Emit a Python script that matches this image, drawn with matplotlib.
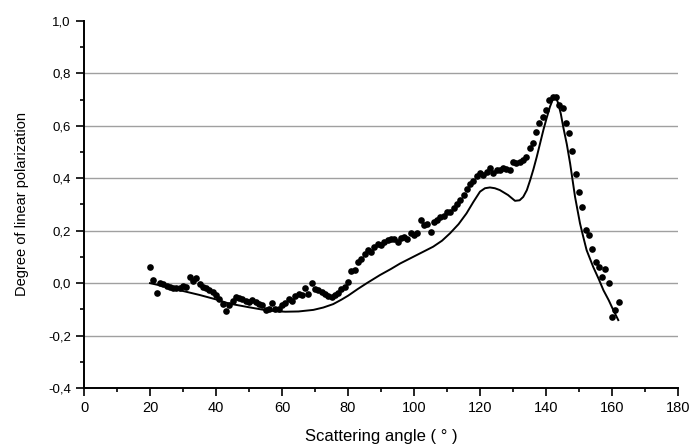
from matplotlib import pyplot as plt
import numpy as np

plt.rcParams['font.family'] = ['Liberation Sans', 'DejaVu Sans']

# measured degree of linear polarization (dots)
ang_obs = list(range(20, 163))
pol_obs = [0.062, 0.011, -0.037, 0.002, -0.005, -0.010, -0.015, -0.020, -0.020, -0.018,
           -0.012, -0.015, 0.024, 0.008, 0.020, -0.005, -0.014, -0.018, -0.027, -0.035,
           -0.046, -0.060, -0.080, -0.105, -0.084, -0.070, -0.052, -0.056, -0.062, -0.068,
           -0.072, -0.065, -0.072, -0.078, -0.085, -0.103, -0.098, -0.075, -0.100, -0.098,
           -0.085, -0.075, -0.062, -0.068, -0.050, -0.040, -0.045, -0.020, -0.040, 0.001,
           -0.024, -0.028, -0.032, -0.040, -0.048, -0.052, -0.045, -0.038, -0.024, -0.014,
           0.003, 0.048, 0.052, 0.081, 0.094, 0.110, 0.126, 0.120, 0.139, 0.148,
           0.145, 0.158, 0.164, 0.168, 0.170, 0.158, 0.172, 0.177, 0.170, 0.192,
           0.185, 0.190, 0.240, 0.221, 0.225, 0.196, 0.234, 0.240, 0.253, 0.256,
           0.272, 0.270, 0.285, 0.300, 0.317, 0.335, 0.358, 0.377, 0.390, 0.410,
           0.419, 0.412, 0.425, 0.438, 0.419, 0.432, 0.431, 0.438, 0.435, 0.431,
           0.463, 0.460, 0.463, 0.470, 0.482, 0.514, 0.536, 0.578, 0.610, 0.635,
           0.660, 0.698, 0.711, 0.709, 0.679, 0.667, 0.610, 0.571, 0.505, 0.416,
           0.348, 0.291, 0.202, 0.183, 0.129, 0.079, 0.062, 0.024, 0.053, -0.001,
           -0.129, -0.103, -0.071]

# model curve (solid line)
ang_fit = [20, 25, 29, 35, 40, 44, 50, 55, 58, 61, 65, 69.5, 72.5, 75.5, 78, 80, 83, 85.7,
           89.7, 93, 95.8, 100.8, 105.8, 108.5, 110.9, 113.5, 115.9, 118, 120, 121.5, 123,
           124.5, 126, 128.5, 130.6, 132, 133.1, 134.2, 135.2, 136.2, 137.2, 138.2, 139.2,
           140.2, 141.2, 142.2, 143, 143.7, 144.5, 145.2, 146.3, 147.3, 148.8, 150.3, 151.3,
           152.3, 154.3, 156, 157.4, 159, 160.4, 161.9]
pol_fit = [0.000, -0.014, -0.027, -0.045, -0.062, -0.078, -0.092, -0.103, -0.107, -0.109,
           -0.108, -0.102, -0.093, -0.080, -0.063, -0.048, -0.022, 0.000, 0.031, 0.054, 0.075,
           0.107, 0.139, 0.162, 0.190, 0.225, 0.266, 0.310, 0.349, 0.362, 0.365,
           0.362, 0.355, 0.336, 0.314, 0.316, 0.329, 0.355, 0.393, 0.435, 0.482, 0.533,
           0.584, 0.630, 0.673, 0.705, 0.708, 0.686, 0.645, 0.597, 0.530, 0.457,
           0.329, 0.228, 0.176, 0.126, 0.062, 0.015, -0.027, -0.065, -0.103, -0.141]

xticks = [0, 20, 40, 60, 80, 100, 120, 140, 160, 180]
yticks = [-0.4, -0.2, 0.0, 0.2, 0.4, 0.6, 0.8, 1.0]
ylabels = ['-0,4', '-0,2', '0,0', '0,2', '0,4', '0,6', '0,8', '1,0']
grid_levels = [-0.2, 0.0, 0.2, 0.4, 0.6, 0.8]

fig = plt.figure(figsize=(6.91, 4.46), dpi=100)
ax = fig.add_axes([0.1216, 0.130, 0.8596, 0.823])

# lignes horizontales grises
for g in grid_levels:
    ax.axhline(g, color='#a0a0a0', lw=1.0, zorder=0)

ax.plot(ang_fit, pol_fit, color='black', lw=1.4, zorder=2)
ax.plot(ang_obs, pol_obs, 'o', color='black', ms=4.8, mec='none', zorder=3)

ax.set_xlim(0, 180)
ax.set_ylim(-0.4, 1.0)
ax.set_xticks(xticks)
ax.set_xticklabels([str(t) for t in xticks])
ax.set_xticks(np.arange(10, 180, 20), minor=True)
ax.set_yticks(yticks)
ax.set_yticklabels(ylabels)
ax.set_yticks(np.arange(-0.3, 1.0, 0.2), minor=True)

for s in ['top', 'right']:
    ax.spines[s].set_visible(False)
for s in ['left', 'bottom']:
    ax.spines[s].set_linewidth(1.4)

ax.tick_params(which='major', direction='out', length=5.5, width=1.2, labelsize=9.5, pad=4)
ax.tick_params(which='minor', direction='out', length=3, width=1.2)
for lab in ax.get_xticklabels():
    lab.set_fontsize(10.5)

ax.set_xlabel('Scattering angle ( ° )', fontsize=12, labelpad=10)
ax.set_ylabel('Degree of linear polarization', fontsize=10.5, labelpad=14)

fig.savefig('out.png', dpi=100)
